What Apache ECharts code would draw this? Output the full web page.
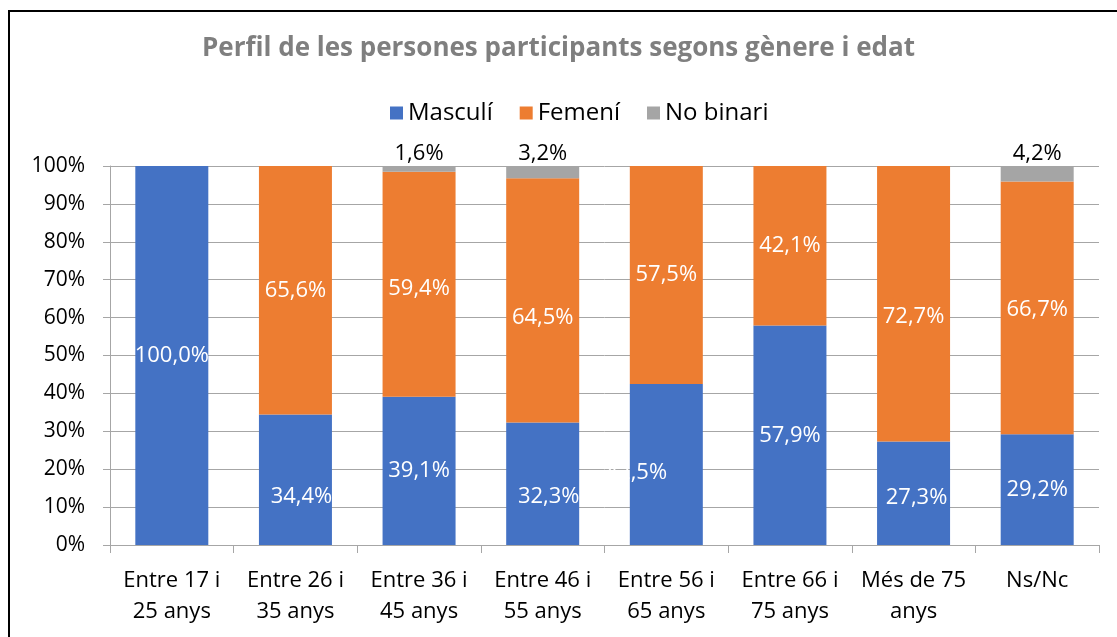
<!DOCTYPE html>
<html>
<head>
<meta charset="utf-8">
<script src="https://cdn.jsdelivr.net/npm/echarts@6/dist/echarts.min.js"></script>
<style>
  html, body { margin: 0; padding: 0; background: #fff; }
  #chart { width: 1117px; height: 637px; }
</style>
</head>
<body>
<div id="chart"></div>
<script>
const categories = ['Entre 17 i\n25 anys', 'Entre 26 i\n35 anys', 'Entre 36 i\n45 anys', 'Entre 46 i\n55 anys',
  'Entre 56 i\n65 anys', 'Entre 66 i\n75 anys', 'Més de 75\nanys', 'Ns/Nc']
const masculi = [100.0, 34.4, 39.1, 32.3, 42.5, 57.9, 27.3, 29.2]
const femeni = [null, 65.6, 59.4, 64.5, 57.5, 42.1, 72.7, 66.7]
const noBinari = [null, null, 1.6, 3.2, null, null, null, 4.2]
const yTicks = [0, 10, 20, 30, 40, 50, 60, 70, 80, 90, 100]

// label nudges (pixels) where the original labels were dragged off-centre
const masculiLabelOffset = [[0, 0], [6, 17], [0, 0], [6, 13], [-30, 8], [0, 0], [3, 4], [0, 0]]
const femeniLabelOffset = [[0, 0], [0, 0], [0, 4], [0, 17], [0, 0], [0, 0], [0, 13], [0, 2]]

const font = 'Open Sans'
const fmt = function (p) {
  return p.value.toFixed(1).replace('.', ',') + '%'
}
const withOffsets = function (values, offsets) {
  return values.map(function (v, i) {
    return { value: v, label: { offset: offsets[i] } }
  })
}

const chart = echarts.init(document.getElementById('chart'))

chart.setOption({
  backgroundColor: '#fff',
  animation: false,
  textStyle: { fontFamily: font },
  title: {
    text: 'Perfil de les persones participants segons gènere i edat',
    left: 'center',
    top: 31,
    textStyle: { fontFamily: font, fontSize: 26, fontWeight: 'bold', color: '#7f7f7f' }
  },
  legend: {
    top: 96,
    left: 385,
    itemWidth: 13,
    itemHeight: 13,
    itemGap: 27,
    icon: 'rect',
    textStyle: { fontFamily: font, fontSize: 24, color: '#000' },
    data: ['Masculí', 'Femení', 'No binari']
  },
  graphic: [{
    type: 'rect',
    shape: { x: 9, y: 11, width: 1130, height: 650 },
    style: { fill: 'none', stroke: '#000', lineWidth: 2 },
    silent: true
  }],
  grid: { left: 110, right: 18, top: 166, bottom: 92 },
  xAxis: {
    type: 'category',
    data: categories,
    axisLine: { lineStyle: { color: '#a6a6a6', width: 1 } },
    axisTick: { show: true, length: 8, lineStyle: { color: '#a6a6a6' } },
    axisLabel: { fontFamily: font, fontSize: 22, color: '#000', lineHeight: 31, margin: 20, interval: 0 }
  },
  yAxis: {
    type: 'value',
    min: yTicks[0],
    max: yTicks[yTicks.length - 1],
    interval: 10,
    axisLine: { show: true, lineStyle: { color: '#a6a6a6', width: 1 } },
    axisTick: { show: true, length: 7, lineStyle: { color: '#a6a6a6' } },
    axisLabel: { fontFamily: font, fontSize: 21, color: '#000', margin: 25, formatter: '{value}%' },
    splitLine: { lineStyle: { color: '#a6a6a6', width: 1 } }
  },
  series: [
    {
      name: 'Masculí',
      type: 'bar',
      stack: 'total',
      barWidth: 73,
      data: withOffsets(masculi, masculiLabelOffset),
      itemStyle: { color: '#4472c4' },
      label: { show: true, position: 'inside', color: '#fff', fontFamily: font, fontSize: 22, formatter: fmt }
    },
    {
      name: 'Femení',
      type: 'bar',
      stack: 'total',
      barWidth: 73,
      data: withOffsets(femeni, femeniLabelOffset),
      itemStyle: { color: '#ed7d31' },
      label: { show: true, position: 'inside', color: '#fff', fontFamily: font, fontSize: 22, formatter: fmt }
    },
    {
      name: 'No binari',
      type: 'bar',
      stack: 'total',
      barWidth: 73,
      data: noBinari,
      itemStyle: { color: '#a5a5a5' },
      label: { show: true, position: 'top', distance: 1, color: '#000', fontFamily: font, fontSize: 22, formatter: fmt }
    }
  ]
})
</script>
</body>
</html>
